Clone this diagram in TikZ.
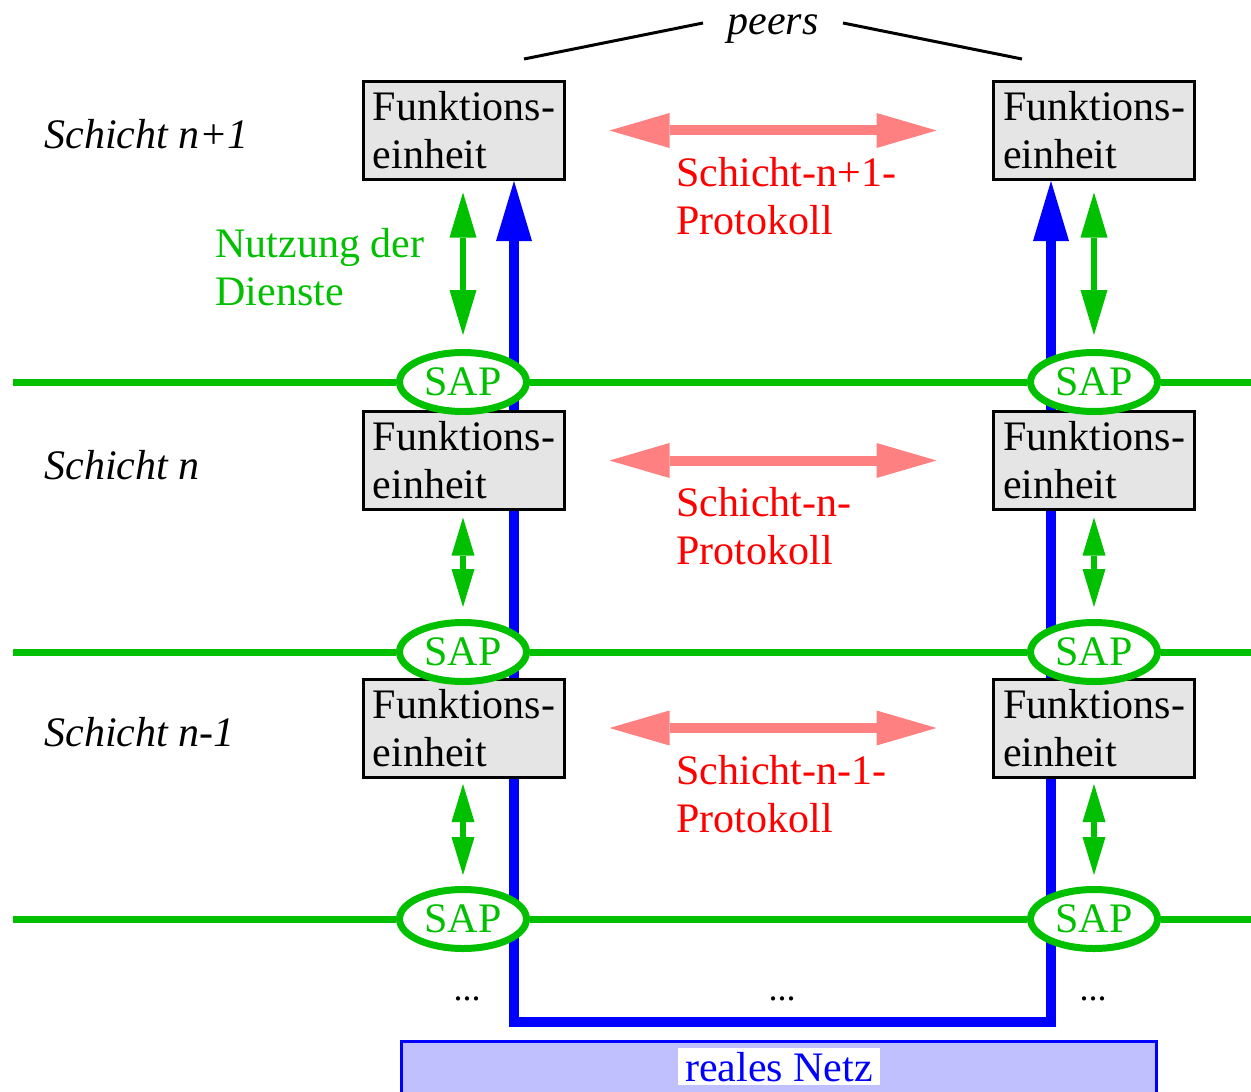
\documentclass[tikz,border=0pt]{standalone}
\usepackage{fontspec}
\setmainfont{Liberation Serif}
\usetikzlibrary{arrows.meta,shapes.geometric,backgrounds}
\definecolor{sapgreen}{RGB}{0,192,0}
\definecolor{peerred}{RGB}{255,128,128}
\definecolor{boxgray}{RGB}{229,229,229}
\definecolor{netfill}{RGB}{192,192,255}

\tikzset{
  bigfont/.style={font=\fontsize{21pt}{24pt}\selectfont},
  unitbox/.style={bigfont, draw=black, line width=1.5pt, fill=boxgray,
    minimum width=100.5pt, minimum height=49pt, align=left, inner sep=0pt},
  sapnode/.style={bigfont, ellipse, draw=sapgreen, fill=white, line width=3.5pt,
    text=sapgreen, minimum width=63.5pt, minimum height=29.5pt, inner sep=0pt},
  layerline/.style={draw=sapgreen, line width=3.5pt},
  svcbig/.style={draw=sapgreen, line width=3pt,
    {Triangle[length=22.5pt,width=13.5pt,line width=0pt]}-{Triangle[length=22.5pt,width=13.5pt,line width=0pt]}},
  svcsmall/.style={draw=sapgreen, line width=3pt,
    {Triangle[length=19pt,width=11.5pt,line width=0pt]}-{Triangle[length=19pt,width=11.5pt,line width=0pt]}},
  peerarrow/.style={draw=peerred, line width=5pt,
    {Triangle[length=30pt,width=17.5pt,line width=0pt]}-{Triangle[length=30pt,width=17.5pt,line width=0pt]}},
  datapath/.style={draw=blue, line width=5.25pt,
    {Triangle[length=30pt,width=18pt,line width=0pt]}-{Triangle[length=30pt,width=18pt,line width=0pt]}},
  peerline/.style={draw=black, line width=1.5pt},
  layerlabel/.style={font=\fontsize{21pt}{24pt}\selectfont\itshape, anchor=base west, inner sep=0pt},
  protlabel/.style={bigfont, text=red, align=left, anchor=north west, inner sep=0pt},
  dots/.style={font=\fontsize{18pt}{20pt}\selectfont, anchor=base, inner sep=0pt},
}

\begin{document}
\begin{tikzpicture}[x=0.5pt,y=-0.5pt]
\useasboundingbox (0,0) rectangle (1251,1091);

% functional units of the three layers
\node[unitbox] (uL1) at (464,130.5) {Funktions-\\einheit};
\node[unitbox] (uR1) at (1094,130.5) {Funktions-\\einheit};
\node[unitbox] (uL2) at (464,460.5) {Funktions-\\einheit};
\node[unitbox] (uR2) at (1094,460.5) {Funktions-\\einheit};
\node[unitbox] (uL3) at (464,728) {Funktions-\\einheit};
\node[unitbox] (uR3) at (1094,728) {Funktions-\\einheit};

% service access points
\node[sapnode] (sL1) at (463,382) {SAP};
\node[sapnode] (sR1) at (1094,382) {SAP};
\node[sapnode] (sL2) at (463,652) {SAP};
\node[sapnode] (sR2) at (1094,652) {SAP};
\node[sapnode] (sL3) at (463,919) {SAP};
\node[sapnode] (sR3) at (1094,919) {SAP};

% layer boundaries and the real data path, behind everything
\coordinate (eL1) at (13,382);  \coordinate (eR1) at (1251,382);
\coordinate (eL2) at (13,652);  \coordinate (eR2) at (1251,652);
\coordinate (eL3) at (13,919);  \coordinate (eR3) at (1251,919);
\coordinate (dl) at (514,1022);
\coordinate (dr) at (1051,1022);
\begin{scope}[on background layer]
  \draw[layerline] (eL1) -- (sL1) -- (sR1) -- (eR1);
  \draw[layerline] (eL2) -- (sL2) -- (sR2) -- (eR2);
  \draw[layerline] (eL3) -- (sL3) -- (sR3) -- (eR3);
  \draw[datapath] (uL1.south -| dl) -- (dl) -- (dr) -- (uR1.south -| dr);
\end{scope}

% use of the services below
\draw[svcbig, shorten <=5.75pt, shorten >=7pt] (uL1.south -| sL1) -- (sL1.north);
\draw[svcbig, shorten <=5.75pt, shorten >=7pt] (uR1.south -| sR1) -- (sR1.north);
\draw[svcsmall, shorten <=3.25pt, shorten >=6pt] (uL2.south -| sL2) -- (sL2.north);
\draw[svcsmall, shorten <=3.25pt, shorten >=6pt] (uR2.south -| sR2) -- (sR2.north);
\draw[svcsmall, shorten <=2.75pt, shorten >=5.5pt] (uL3.south -| sL3) -- (sL3.north);
\draw[svcsmall, shorten <=2.75pt, shorten >=5.5pt] (uR3.south -| sR3) -- (sR3.north);

% peer protocols
\draw[peerarrow, shorten <=21.75pt, shorten >=27.75pt] (uL1) -- (uR1);
\draw[peerarrow, shorten <=21.75pt, shorten >=27.75pt] (uL2) -- (uR2);
\draw[peerarrow, shorten <=21.75pt, shorten >=27.75pt] (uL3) -- (uR3);
\node[protlabel] (pr1) at (676,157) {Schicht-n+1-\\Protokoll};
\node[protlabel] (pr2) at (676,487) {Schicht-n-\\Protokoll};
\node[protlabel] (pr3) at (676,754.5) {Schicht-n-1-\\Protokoll};

\node[protlabel, text=sapgreen] (use) at (215,228) {Nutzung der\\Dienste};

% layer names
\node[layerlabel] (ln1) at (44,149) {Schicht n+1};
\node[layerlabel] (ln2) at (44,479) {Schicht n};
\node[layerlabel] (ln3) at (44,746.5) {Schicht n-1};

% peers
\node[font=\fontsize{21pt}{24pt}\selectfont\itshape, anchor=base, inner sep=0pt] (peers) at (773,35) {peers};
\coordinate (pa) at (524,59);
\coordinate (pb) at (703,23);
\coordinate (pc) at (843,23);
\coordinate (pd) at (1022,59);
\draw[peerline] (pa) -- (pb);
\draw[peerline] (pc) -- (pd);

% further layers
\node[dots] (dt1) at (467,1000) {...};
\node[dots] (dt2) at (782,1000) {...};
\node[dots] (dt3) at (1093,1000) {...};

% the physical network
\begin{scope}
  \clip (0,0) rectangle (1251,1091);
  \node[draw=blue, line width=1.5pt, fill=netfill, minimum width=377.5pt,
        minimum height=34.25pt, inner sep=0pt] (net) at (779,1075.75) {};
  \node[bigfont, text=blue, fill=white, inner xsep=3.75pt, inner ysep=2pt,
        anchor=base] (netlabel) at (779,1081) {reales Netz};
\end{scope}
\end{tikzpicture}
\end{document}
